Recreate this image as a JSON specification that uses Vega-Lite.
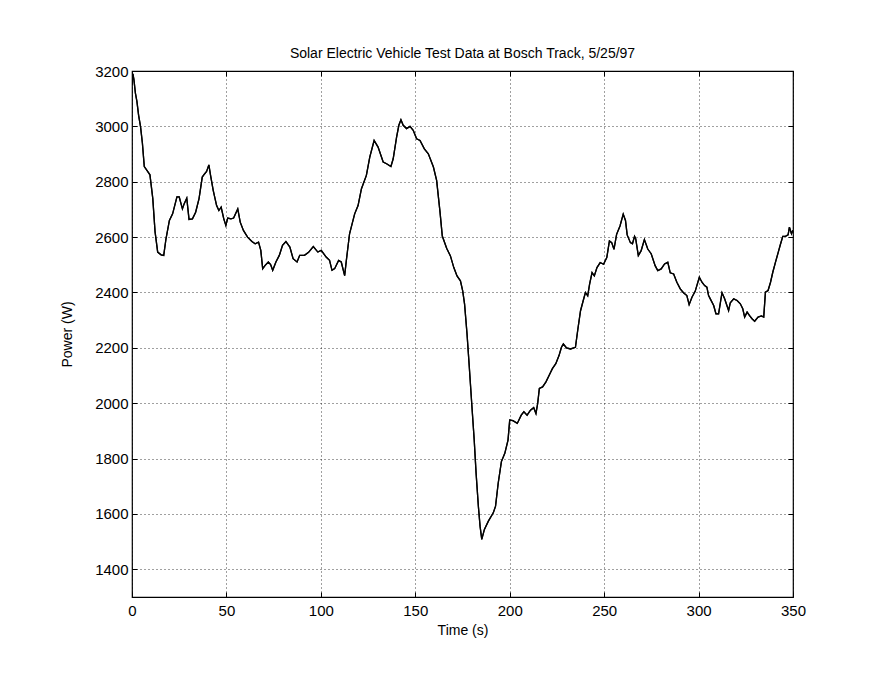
{
  "$schema": "https://vega.github.io/schema/vega-lite/v6.json",
  "width": 661,
  "height": 526,
  "autosize": {"type": "none"},
  "padding": {"left": 132, "top": 71, "right": 81, "bottom": 82},
  "background": "white",
  "title": {
    "text": "Solar Electric Vehicle Test Data at Bosch Track, 5/25/97",
    "fontSize": 14,
    "fontWeight": "normal",
    "color": "black",
    "font": "Liberation Sans",
    "offset": 3
  },
  "data": {
    "values": [
      {"t": 0, "p": 3150}, {"t": 0.5, "p": 3190}, {"t": 1, "p": 3170}, {"t": 1.8, "p": 3120},
      {"t": 2.6, "p": 3090}, {"t": 3.5, "p": 3040}, {"t": 4.5, "p": 3000}, {"t": 5.5, "p": 2940},
      {"t": 6.5, "p": 2855}, {"t": 8, "p": 2840}, {"t": 9.5, "p": 2825}, {"t": 11, "p": 2740},
      {"t": 12.2, "p": 2620}, {"t": 13.6, "p": 2546}, {"t": 15.4, "p": 2536}, {"t": 16.8, "p": 2534},
      {"t": 18, "p": 2594}, {"t": 19.8, "p": 2660}, {"t": 21.5, "p": 2684}, {"t": 23.8, "p": 2745},
      {"t": 25, "p": 2745}, {"t": 26.7, "p": 2702}, {"t": 27.6, "p": 2720}, {"t": 29, "p": 2741},
      {"t": 30.2, "p": 2664}, {"t": 32, "p": 2666}, {"t": 33.7, "p": 2690}, {"t": 35.5, "p": 2739},
      {"t": 37.2, "p": 2817}, {"t": 38.5, "p": 2829}, {"t": 39.5, "p": 2837}, {"t": 40.7, "p": 2861},
      {"t": 41.6, "p": 2823}, {"t": 43, "p": 2769}, {"t": 44.8, "p": 2714}, {"t": 46, "p": 2696},
      {"t": 47.2, "p": 2708}, {"t": 48.6, "p": 2666}, {"t": 49.7, "p": 2642}, {"t": 50.7, "p": 2669},
      {"t": 52.4, "p": 2666}, {"t": 53.8, "p": 2669}, {"t": 56, "p": 2702}, {"t": 57.3, "p": 2654},
      {"t": 59, "p": 2624}, {"t": 61.2, "p": 2600}, {"t": 63.5, "p": 2584}, {"t": 65.2, "p": 2576},
      {"t": 67, "p": 2582}, {"t": 68.2, "p": 2552}, {"t": 69.2, "p": 2486}, {"t": 70.5, "p": 2498},
      {"t": 72.2, "p": 2510}, {"t": 73.4, "p": 2501}, {"t": 74.5, "p": 2480}, {"t": 76.2, "p": 2510},
      {"t": 78, "p": 2534}, {"t": 79.7, "p": 2570}, {"t": 81.5, "p": 2584}, {"t": 83.6, "p": 2564},
      {"t": 85.3, "p": 2522}, {"t": 87.4, "p": 2510}, {"t": 88.8, "p": 2534}, {"t": 91.3, "p": 2534},
      {"t": 93.5, "p": 2545}, {"t": 96, "p": 2566}, {"t": 98.4, "p": 2546}, {"t": 100.2, "p": 2552},
      {"t": 102.8, "p": 2528}, {"t": 104.6, "p": 2516}, {"t": 105.9, "p": 2480}, {"t": 107.3, "p": 2486},
      {"t": 109.4, "p": 2516}, {"t": 110.8, "p": 2510}, {"t": 112.6, "p": 2461}, {"t": 113.5, "p": 2516},
      {"t": 115.2, "p": 2612}, {"t": 117.9, "p": 2684}, {"t": 119.7, "p": 2714}, {"t": 121.5, "p": 2775},
      {"t": 124.1, "p": 2823}, {"t": 125.9, "p": 2889}, {"t": 128.2, "p": 2949}, {"t": 130.3, "p": 2925},
      {"t": 133, "p": 2871}, {"t": 134.8, "p": 2865}, {"t": 137.1, "p": 2855}, {"t": 138.3, "p": 2883},
      {"t": 140.1, "p": 2961}, {"t": 141.3, "p": 3004}, {"t": 142.4, "p": 3024}, {"t": 143.6, "p": 3004},
      {"t": 145.4, "p": 2992}, {"t": 147.2, "p": 3000}, {"t": 148.9, "p": 2986}, {"t": 150.7, "p": 2955},
      {"t": 152.5, "p": 2949}, {"t": 154.8, "p": 2919}, {"t": 156.9, "p": 2901}, {"t": 159.6, "p": 2853},
      {"t": 161.3, "p": 2805}, {"t": 163.1, "p": 2690}, {"t": 164.3, "p": 2604}, {"t": 166.6, "p": 2560},
      {"t": 168.6, "p": 2532}, {"t": 170.4, "p": 2490}, {"t": 172.1, "p": 2460}, {"t": 173.9, "p": 2442},
      {"t": 175.1, "p": 2406}, {"t": 176.1, "p": 2358}, {"t": 177.4, "p": 2250}, {"t": 178.6, "p": 2131},
      {"t": 180, "p": 1987}, {"t": 181.2, "p": 1867}, {"t": 182.2, "p": 1747}, {"t": 183.4, "p": 1628},
      {"t": 184.3, "p": 1556}, {"t": 185.2, "p": 1508}, {"t": 186.6, "p": 1544}, {"t": 188.7, "p": 1574},
      {"t": 191.3, "p": 1604}, {"t": 192.5, "p": 1628}, {"t": 193.9, "p": 1711}, {"t": 195.6, "p": 1789},
      {"t": 197.4, "p": 1819}, {"t": 199.1, "p": 1867}, {"t": 200, "p": 1939}, {"t": 201.7, "p": 1937},
      {"t": 204, "p": 1927}, {"t": 206.1, "p": 1957}, {"t": 207.5, "p": 1969}, {"t": 209.2, "p": 1957},
      {"t": 211, "p": 1975}, {"t": 212.7, "p": 1984}, {"t": 213.9, "p": 1963}, {"t": 214.8, "p": 1999},
      {"t": 215.7, "p": 2053}, {"t": 217.4, "p": 2059}, {"t": 219.2, "p": 2077}, {"t": 220.9, "p": 2101},
      {"t": 222.6, "p": 2125}, {"t": 224.4, "p": 2143}, {"t": 226.1, "p": 2172}, {"t": 227.4, "p": 2202},
      {"t": 228.4, "p": 2214}, {"t": 230.1, "p": 2200}, {"t": 232.2, "p": 2196}, {"t": 234.8, "p": 2202},
      {"t": 236.1, "p": 2268}, {"t": 237.5, "p": 2334}, {"t": 238.9, "p": 2370}, {"t": 240.1, "p": 2400},
      {"t": 241.3, "p": 2388}, {"t": 242.3, "p": 2430}, {"t": 243.6, "p": 2472}, {"t": 244.8, "p": 2460},
      {"t": 246.2, "p": 2490}, {"t": 247.9, "p": 2508}, {"t": 249.7, "p": 2502}, {"t": 251.4, "p": 2526},
      {"t": 252.8, "p": 2586}, {"t": 254, "p": 2580}, {"t": 255.2, "p": 2556}, {"t": 256.6, "p": 2610},
      {"t": 258.4, "p": 2640}, {"t": 260.1, "p": 2683}, {"t": 261.3, "p": 2660}, {"t": 262.2, "p": 2608},
      {"t": 263.9, "p": 2580}, {"t": 265, "p": 2576}, {"t": 266.1, "p": 2603}, {"t": 266.7, "p": 2594},
      {"t": 268.1, "p": 2533}, {"t": 269.6, "p": 2551}, {"t": 271.3, "p": 2591}, {"t": 273.1, "p": 2557},
      {"t": 274.9, "p": 2540}, {"t": 277, "p": 2497}, {"t": 278.4, "p": 2479}, {"t": 280.2, "p": 2485},
      {"t": 282, "p": 2503}, {"t": 283.7, "p": 2509}, {"t": 285, "p": 2471}, {"t": 286.8, "p": 2467},
      {"t": 288.5, "p": 2437}, {"t": 290.3, "p": 2413}, {"t": 292, "p": 2399}, {"t": 293.8, "p": 2389},
      {"t": 295, "p": 2356}, {"t": 296.5, "p": 2383}, {"t": 298.2, "p": 2404}, {"t": 300.4, "p": 2455},
      {"t": 301.8, "p": 2437}, {"t": 303.2, "p": 2425}, {"t": 304.4, "p": 2419}, {"t": 305.3, "p": 2389},
      {"t": 306.2, "p": 2377}, {"t": 308, "p": 2353}, {"t": 309.2, "p": 2323}, {"t": 310.6, "p": 2323},
      {"t": 312.4, "p": 2399}, {"t": 313.8, "p": 2377}, {"t": 315, "p": 2353}, {"t": 315.9, "p": 2335},
      {"t": 316.8, "p": 2363}, {"t": 318.6, "p": 2377}, {"t": 320.4, "p": 2371}, {"t": 322.1, "p": 2359},
      {"t": 323.4, "p": 2341}, {"t": 324.4, "p": 2311}, {"t": 325.7, "p": 2329}, {"t": 326.9, "p": 2317},
      {"t": 328.3, "p": 2305}, {"t": 329.7, "p": 2296}, {"t": 331.5, "p": 2311}, {"t": 333.3, "p": 2315},
      {"t": 334.5, "p": 2311}, {"t": 335.4, "p": 2401}, {"t": 336.8, "p": 2407}, {"t": 338.1, "p": 2437},
      {"t": 339.3, "p": 2473}, {"t": 340.7, "p": 2509}, {"t": 342.1, "p": 2543}, {"t": 343.4, "p": 2575},
      {"t": 344.6, "p": 2603}, {"t": 346, "p": 2603}, {"t": 347.4, "p": 2608}, {"t": 348.1, "p": 2636},
      {"t": 349.2, "p": 2612}, {"t": 350, "p": 2625}
    ]
  },
  "layer": [
    {
      "mark": {"type": "line", "color": "black", "strokeWidth": 1.3, "clip": true},
      "encoding": {
        "x": {
          "field": "t", "type": "quantitative",
          "scale": {"domain": [0, 350], "nice": false, "zero": false},
          "axis": {
            "orient": "bottom",
            "title": "Time (s)",
            "format": "d",
            "values": [0, 50, 100, 150, 200, 250, 300, 350],
            "grid": true,
            "tickSize": -5,
            "labelFlush": false,
            "labelPadding": 11,
            "titlePadding": 5
          }
        },
        "y": {
          "field": "p", "type": "quantitative",
          "scale": {"domain": [1300, 3200], "nice": false, "zero": false},
          "axis": {
            "orient": "left",
            "title": "Power (W)",
            "format": "d",
            "values": [1400, 1600, 1800, 2000, 2200, 2400, 2600, 2800, 3000, 3200],
            "grid": true,
            "tickSize": -5,
            "labelFlush": false,
            "labelPadding": 9,
            "titlePadding": 20
          }
        }
      }
    },
    {
      "mark": {"type": "line", "color": "black", "strokeWidth": 1.3, "clip": true},
      "encoding": {
        "x": {
          "field": "t", "type": "quantitative",
          "axis": {
            "orient": "top",
            "title": null,
            "values": [0, 50, 100, 150, 200, 250, 300, 350],
            "labels": false,
            "grid": false,
            "tickSize": -5
          }
        },
        "y": {
          "field": "p", "type": "quantitative",
          "axis": {
            "orient": "right",
            "title": null,
            "values": [1400, 1600, 1800, 2000, 2200, 2400, 2600, 2800, 3000, 3200],
            "labels": false,
            "grid": false,
            "tickSize": -5
          }
        }
      }
    }
  ],
  "resolve": {"axis": {"x": "independent", "y": "independent"}},
  "config": {
    "font": "Liberation Sans",
    "view": {"stroke": "black", "strokeWidth": 1.2},
    "axis": {
      "domain": false,
      "tickColor": "black",
      "tickWidth": 1,
      "labelColor": "black",
      "labelFontSize": 15,
      "labelFont": "Liberation Sans",
      "titleColor": "black",
      "titleFontSize": 14,
      "titleFontWeight": "normal",
      "titleFont": "Liberation Sans",
      "gridColor": "black",
      "gridOpacity": 0.75,
      "gridWidth": 1,
      "gridDash": [1, 3]
    }
  }
}
